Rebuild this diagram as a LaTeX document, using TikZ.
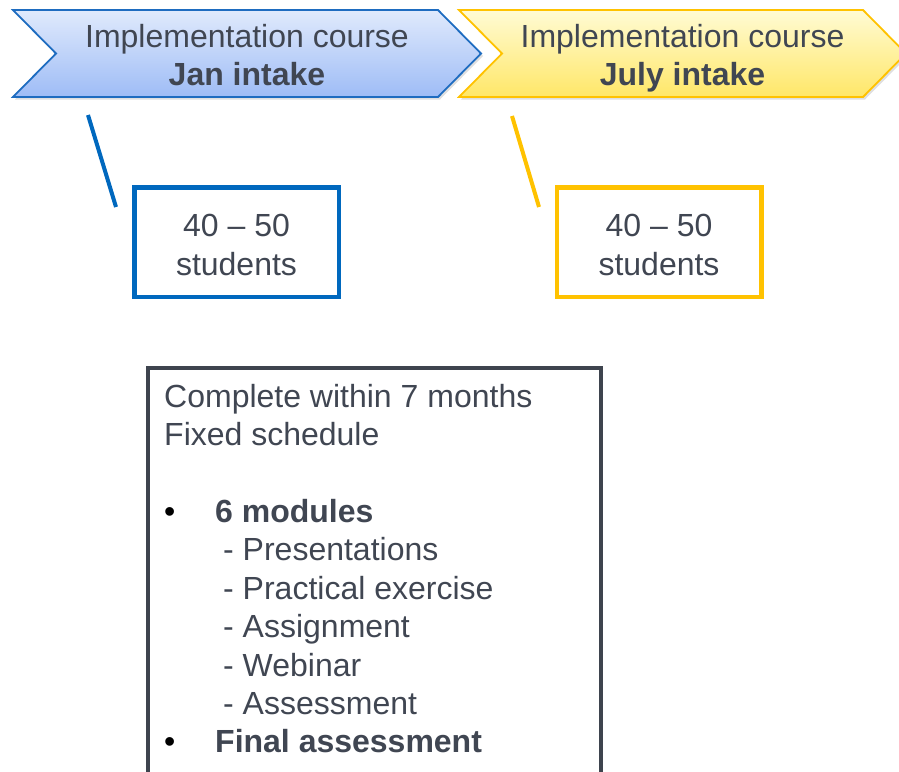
\documentclass[tikz,border=0pt]{standalone}
\usepackage{fontspec}
\setmainfont{Liberation Sans}
\usetikzlibrary{shadows}
\definecolor{inkgray}{RGB}{64,70,82}
\definecolor{janblue}{RGB}{0,104,190}
\definecolor{janedge}{RGB}{30,108,192}
\definecolor{jantop}{RGB}{224,234,252}
\definecolor{janbot}{RGB}{158,188,246}
\definecolor{julyyellow}{RGB}{255,194,0}
\definecolor{julytop}{RGB}{255,251,212}
\definecolor{julybot}{RGB}{255,231,104}
\definecolor{planedge}{RGB}{62,68,78}

\begin{document}
\begin{tikzpicture}[x=1pt,y=-1pt,
    txt/.style={text=inkgray,font=\fontsize{32}{38.4}\selectfont,inner sep=0pt},
    chevron/.style={line width=1.8pt,drop shadow={shadow xshift=2pt,shadow yshift=-2.5pt,opacity=0.25}},
    headcount/.style={txt,draw=#1,line width=4.5pt,minimum width=204.5pt,minimum height=109.5pt,align=center},
    tick/.style={line width=4pt,draw=#1}]
    \useasboundingbox (0,0) rectangle (899,771);
    \path[chevron,draw=janedge,top color=jantop,bottom color=janbot] (13,10) -- (438,10) -- (481,53.5) -- (438,97) -- (13,97) -- (56,53.5) -- cycle;
    \path[chevron,draw=julyyellow,top color=julytop,bottom color=julybot] (459,10) -- (863,10) -- (906,53.5) -- (863,97) -- (459,97) -- (502,53.5) -- cycle;
    \node[txt,align=center] (jan) at (247,55) {Implementation course\\\textbf{Jan intake}};
    \node[txt,align=center] (july) at (682.5,58) {Implementation course\\\textbf{July intake}};
    \node[headcount=janblue] (jancount) at (236.5,242) {\rule{0pt}{28pt}40 -- 50\\students};
    \node[headcount=julyyellow] (julycount) at (659,242) {\rule{0pt}{28pt}40 -- 50\\students};
    \coordinate (jantick) at (88,115);
    \coordinate (janfoot) at (116,207);
    \coordinate (julytick) at (512,116);
    \coordinate (julyfoot) at (539,207);
    \draw[tick=janblue] (jantick) -- (janfoot);
    \draw[tick=julyyellow] (julytick) -- (julyfoot);
    \node[draw=planedge,line width=3.5pt,minimum width=453pt,minimum height=440pt,anchor=north west,inner sep=0pt] (plan) at (146,366) {};
    \node[txt,align=left,anchor=north west] (plantext) at (164,384) {Complete within 7 months\\Fixed schedule\\[38.4pt]
    \makebox[51pt][l]{\textcolor{black}{•}}\textbf{6 modules}\\
    \hspace*{59pt}- Presentations\\
    \hspace*{59pt}- Practical exercise\\
    \hspace*{59pt}- Assignment\\
    \hspace*{59pt}- Webinar\\
    \hspace*{59pt}- Assessment\\
    \makebox[51pt][l]{\textcolor{black}{•}}\textbf{Final assessment}};
\end{tikzpicture}
\end{document}
